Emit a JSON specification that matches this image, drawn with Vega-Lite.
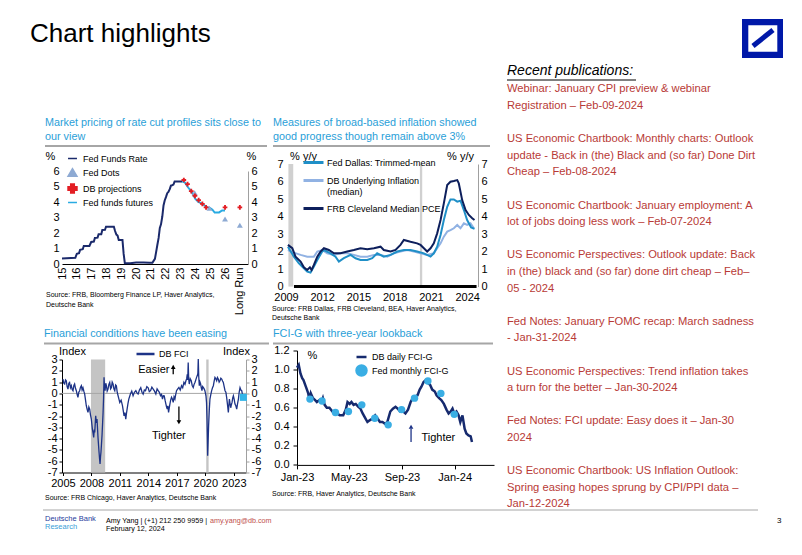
{
  "$schema": "https://vega.github.io/schema/vega-lite/v6.json",
  "background": "white",
  "padding": {"left": 30, "top": 18, "right": 4, "bottom": 4},
  "config": {
    "font": "Liberation Sans",
    "view": {"stroke": null},
    "axis": {"labelFont": "Liberation Sans", "labelFontSize": 11, "labelColor": "#000000", "grid": false, "ticks": false, "domain": false, "titleFont": "Liberation Sans", "titleFontSize": 11, "titleFontWeight": "normal", "titleColor": "#000000", "labelFlush": false, "labelOverlap": false, "labelPadding": 3, "tickCount": 20},
    "legend": {"labelFont": "Liberation Sans", "labelFontSize": 9, "labelColor": "#000000", "symbolStrokeWidth": 2.5, "rowPadding": 0, "padding": 0},
    "title": {"font": "Liberation Sans", "fontWeight": "normal", "anchor": "start"},
    "text": {"font": "Liberation Sans"}
  },
  "datasets": {
    "c1": [
      {"s":"Fed Funds Rate","x":2015.0,"v":0.36},{"s":"Fed Funds Rate","x":2015.9,"v":0.40},{"s":"Fed Funds Rate","x":2016.0,"v":0.66},{"s":"Fed Funds Rate","x":2016.15,"v":0.70},{"s":"Fed Funds Rate","x":2016.22,"v":0.91},{"s":"Fed Funds Rate","x":2016.4,"v":0.95},{"s":"Fed Funds Rate","x":2016.47,"v":1.16},{"s":"Fed Funds Rate","x":2016.85,"v":1.16},{"s":"Fed Funds Rate","x":2016.97,"v":1.42},{"s":"Fed Funds Rate","x":2017.15,"v":1.45},{"s":"Fed Funds Rate","x":2017.22,"v":1.68},{"s":"Fed Funds Rate","x":2017.4,"v":1.70},{"s":"Fed Funds Rate","x":2017.47,"v":1.92},{"s":"Fed Funds Rate","x":2017.65,"v":1.92},{"s":"Fed Funds Rate","x":2017.72,"v":2.19},{"s":"Fed Funds Rate","x":2017.9,"v":2.20},{"s":"Fed Funds Rate","x":2017.97,"v":2.40},{"s":"Fed Funds Rate","x":2018.5,"v":2.40},{"s":"Fed Funds Rate","x":2018.58,"v":2.13},{"s":"Fed Funds Rate","x":2018.67,"v":1.90},{"s":"Fed Funds Rate","x":2018.75,"v":1.83},{"s":"Fed Funds Rate","x":2018.83,"v":1.55},{"s":"Fed Funds Rate","x":2019.08,"v":1.55},{"s":"Fed Funds Rate","x":2019.16,"v":0.65},{"s":"Fed Funds Rate","x":2019.24,"v":0.05},{"s":"Fed Funds Rate","x":2019.6,"v":0.05},{"s":"Fed Funds Rate","x":2020.0,"v":0.09},{"s":"Fed Funds Rate","x":2020.5,"v":0.10},{"s":"Fed Funds Rate","x":2020.9,"v":0.08},{"s":"Fed Funds Rate","x":2021.1,"v":0.08},{"s":"Fed Funds Rate","x":2021.18,"v":0.20},{"s":"Fed Funds Rate","x":2021.27,"v":0.33},{"s":"Fed Funds Rate","x":2021.35,"v":0.77},{"s":"Fed Funds Rate","x":2021.43,"v":1.21},{"s":"Fed Funds Rate","x":2021.52,"v":1.68},{"s":"Fed Funds Rate","x":2021.6,"v":2.33},{"s":"Fed Funds Rate","x":2021.68,"v":2.56},{"s":"Fed Funds Rate","x":2021.77,"v":3.08},{"s":"Fed Funds Rate","x":2021.85,"v":3.78},{"s":"Fed Funds Rate","x":2021.93,"v":4.10},{"s":"Fed Funds Rate","x":2022.02,"v":4.33},{"s":"Fed Funds Rate","x":2022.1,"v":4.57},{"s":"Fed Funds Rate","x":2022.18,"v":4.65},{"s":"Fed Funds Rate","x":2022.27,"v":4.83},{"s":"Fed Funds Rate","x":2022.35,"v":5.06},{"s":"Fed Funds Rate","x":2022.43,"v":5.08},{"s":"Fed Funds Rate","x":2022.52,"v":5.12},{"s":"Fed Funds Rate","x":2022.6,"v":5.33},{"s":"Fed Funds Rate","x":2023.1,"v":5.33},
      {"s":"Fed funds futures","x":2023.1,"v":5.33},{"s":"Fed funds futures","x":2023.3,"v":5.25},{"s":"Fed funds futures","x":2023.5,"v":4.95},{"s":"Fed funds futures","x":2023.75,"v":4.65},{"s":"Fed funds futures","x":2024.0,"v":4.2},{"s":"Fed funds futures","x":2024.2,"v":4.0},{"s":"Fed funds futures","x":2024.45,"v":3.9},{"s":"Fed funds futures","x":2024.75,"v":3.68},{"s":"Fed funds futures","x":2025.0,"v":3.6},{"s":"Fed funds futures","x":2025.15,"v":3.5},{"s":"Fed funds futures","x":2025.3,"v":3.32},{"s":"Fed funds futures","x":2025.6,"v":3.33},{"s":"Fed funds futures","x":2025.8,"v":3.45},{"s":"Fed funds futures","x":2026.0,"v":3.45},
      {"s":"Fed Dots","x":2023.95,"v":4.6},{"s":"Fed Dots","x":2024.95,"v":3.6},{"s":"Fed Dots","x":2026.0,"v":2.9},{"s":"Fed Dots","x":2027.0,"v":2.5},
      {"s":"DB projections","x":2023.22,"v":5.42},{"s":"DB projections","x":2023.47,"v":5.15},{"s":"DB projections","x":2023.72,"v":4.7},{"s":"DB projections","x":2023.97,"v":4.4},{"s":"DB projections","x":2024.22,"v":4.12},{"s":"DB projections","x":2024.47,"v":3.88},{"s":"DB projections","x":2024.72,"v":3.65},{"s":"DB projections","x":2026.0,"v":3.65},{"s":"DB projections","x":2027.0,"v":3.65}
    ],
    "c2": [
      {"s":"DB Underlying Inflation (median)","x":2009.16,"v":2.09},{"s":"DB Underlying Inflation (median)","x":2009.65,"v":1.94},{"s":"DB Underlying Inflation (median)","x":2010.21,"v":1.81},{"s":"DB Underlying Inflation (median)","x":2010.76,"v":1.71},{"s":"DB Underlying Inflation (median)","x":2011.31,"v":1.71},{"s":"DB Underlying Inflation (median)","x":2011.59,"v":2.0},{"s":"DB Underlying Inflation (median)","x":2012.0,"v":2.09},{"s":"DB Underlying Inflation (median)","x":2012.41,"v":1.9},{"s":"DB Underlying Inflation (median)","x":2012.97,"v":1.81},{"s":"DB Underlying Inflation (median)","x":2013.52,"v":1.9},{"s":"DB Underlying Inflation (median)","x":2014.07,"v":1.9},{"s":"DB Underlying Inflation (median)","x":2014.62,"v":1.81},{"s":"DB Underlying Inflation (median)","x":2015.17,"v":1.71},{"s":"DB Underlying Inflation (median)","x":2015.73,"v":1.71},{"s":"DB Underlying Inflation (median)","x":2016.28,"v":1.81},{"s":"DB Underlying Inflation (median)","x":2016.83,"v":1.81},{"s":"DB Underlying Inflation (median)","x":2017.38,"v":1.71},{"s":"DB Underlying Inflation (median)","x":2017.93,"v":1.9},{"s":"DB Underlying Inflation (median)","x":2018.48,"v":2.0},{"s":"DB Underlying Inflation (median)","x":2019.04,"v":2.09},{"s":"DB Underlying Inflation (median)","x":2019.59,"v":2.0},{"s":"DB Underlying Inflation (median)","x":2020.14,"v":1.9},{"s":"DB Underlying Inflation (median)","x":2020.69,"v":1.81},{"s":"DB Underlying Inflation (median)","x":2021.24,"v":1.9},{"s":"DB Underlying Inflation (median)","x":2021.52,"v":2.19},{"s":"DB Underlying Inflation (median)","x":2021.8,"v":2.47},{"s":"DB Underlying Inflation (median)","x":2022.07,"v":2.85},{"s":"DB Underlying Inflation (median)","x":2022.35,"v":3.14},{"s":"DB Underlying Inflation (median)","x":2022.62,"v":3.23},{"s":"DB Underlying Inflation (median)","x":2022.9,"v":3.33},{"s":"DB Underlying Inflation (median)","x":2023.18,"v":3.52},{"s":"DB Underlying Inflation (median)","x":2023.45,"v":3.33},{"s":"DB Underlying Inflation (median)","x":2023.73,"v":3.61},{"s":"DB Underlying Inflation (median)","x":2024.0,"v":3.52},{"s":"DB Underlying Inflation (median)","x":2024.28,"v":3.61},{"s":"DB Underlying Inflation (median)","x":2024.56,"v":3.33},
      {"s":"Fed Dallas: Trimmed-mean","x":2009.16,"v":2.28},{"s":"Fed Dallas: Trimmed-mean","x":2009.65,"v":1.71},{"s":"Fed Dallas: Trimmed-mean","x":2010.07,"v":1.33},{"s":"Fed Dallas: Trimmed-mean","x":2010.48,"v":1.05},{"s":"Fed Dallas: Trimmed-mean","x":2010.76,"v":0.86},{"s":"Fed Dallas: Trimmed-mean","x":2011.03,"v":0.8},{"s":"Fed Dallas: Trimmed-mean","x":2011.31,"v":1.14},{"s":"Fed Dallas: Trimmed-mean","x":2011.59,"v":1.52},{"s":"Fed Dallas: Trimmed-mean","x":2012.0,"v":2.0},{"s":"Fed Dallas: Trimmed-mean","x":2012.14,"v":2.09},{"s":"Fed Dallas: Trimmed-mean","x":2012.69,"v":1.9},{"s":"Fed Dallas: Trimmed-mean","x":2013.1,"v":1.71},{"s":"Fed Dallas: Trimmed-mean","x":2013.38,"v":1.43},{"s":"Fed Dallas: Trimmed-mean","x":2013.79,"v":1.62},{"s":"Fed Dallas: Trimmed-mean","x":2014.35,"v":1.81},{"s":"Fed Dallas: Trimmed-mean","x":2014.76,"v":1.62},{"s":"Fed Dallas: Trimmed-mean","x":2015.17,"v":1.52},{"s":"Fed Dallas: Trimmed-mean","x":2015.73,"v":1.52},{"s":"Fed Dallas: Trimmed-mean","x":2016.14,"v":1.62},{"s":"Fed Dallas: Trimmed-mean","x":2016.55,"v":1.9},{"s":"Fed Dallas: Trimmed-mean","x":2017.1,"v":1.71},{"s":"Fed Dallas: Trimmed-mean","x":2017.66,"v":1.81},{"s":"Fed Dallas: Trimmed-mean","x":2018.21,"v":2.0},{"s":"Fed Dallas: Trimmed-mean","x":2018.76,"v":2.09},{"s":"Fed Dallas: Trimmed-mean","x":2019.31,"v":2.09},{"s":"Fed Dallas: Trimmed-mean","x":2019.86,"v":2.0},{"s":"Fed Dallas: Trimmed-mean","x":2020.42,"v":1.9},{"s":"Fed Dallas: Trimmed-mean","x":2020.97,"v":1.71},{"s":"Fed Dallas: Trimmed-mean","x":2021.24,"v":1.9},{"s":"Fed Dallas: Trimmed-mean","x":2021.52,"v":2.28},{"s":"Fed Dallas: Trimmed-mean","x":2021.8,"v":2.95},{"s":"Fed Dallas: Trimmed-mean","x":2022.07,"v":3.8},{"s":"Fed Dallas: Trimmed-mean","x":2022.35,"v":4.56},{"s":"Fed Dallas: Trimmed-mean","x":2022.62,"v":4.98},{"s":"Fed Dallas: Trimmed-mean","x":2022.9,"v":4.98},{"s":"Fed Dallas: Trimmed-mean","x":2023.18,"v":4.85},{"s":"Fed Dallas: Trimmed-mean","x":2023.45,"v":4.9},{"s":"Fed Dallas: Trimmed-mean","x":2023.73,"v":4.37},{"s":"Fed Dallas: Trimmed-mean","x":2024.0,"v":3.8},{"s":"Fed Dallas: Trimmed-mean","x":2024.33,"v":3.38},{"s":"Fed Dallas: Trimmed-mean","x":2024.61,"v":3.3},
      {"s":"FRB Cleveland Median PCE","x":2009.16,"v":2.38},{"s":"FRB Cleveland Median PCE","x":2009.52,"v":2.19},{"s":"FRB Cleveland Median PCE","x":2009.79,"v":1.71},{"s":"FRB Cleveland Median PCE","x":2010.21,"v":1.43},{"s":"FRB Cleveland Median PCE","x":2010.48,"v":1.1},{"s":"FRB Cleveland Median PCE","x":2010.76,"v":0.95},{"s":"FRB Cleveland Median PCE","x":2010.98,"v":1.1},{"s":"FRB Cleveland Median PCE","x":2011.12,"v":0.95},{"s":"FRB Cleveland Median PCE","x":2011.31,"v":1.24},{"s":"FRB Cleveland Median PCE","x":2011.59,"v":1.71},{"s":"FRB Cleveland Median PCE","x":2011.86,"v":2.0},{"s":"FRB Cleveland Median PCE","x":2012.14,"v":2.19},{"s":"FRB Cleveland Median PCE","x":2012.55,"v":2.09},{"s":"FRB Cleveland Median PCE","x":2012.97,"v":1.9},{"s":"FRB Cleveland Median PCE","x":2013.52,"v":1.9},{"s":"FRB Cleveland Median PCE","x":2014.07,"v":2.0},{"s":"FRB Cleveland Median PCE","x":2014.62,"v":2.09},{"s":"FRB Cleveland Median PCE","x":2015.17,"v":2.19},{"s":"FRB Cleveland Median PCE","x":2015.73,"v":2.14},{"s":"FRB Cleveland Median PCE","x":2016.28,"v":2.19},{"s":"FRB Cleveland Median PCE","x":2016.83,"v":2.28},{"s":"FRB Cleveland Median PCE","x":2017.1,"v":2.09},{"s":"FRB Cleveland Median PCE","x":2017.66,"v":2.0},{"s":"FRB Cleveland Median PCE","x":2018.07,"v":2.09},{"s":"FRB Cleveland Median PCE","x":2018.48,"v":2.38},{"s":"FRB Cleveland Median PCE","x":2018.76,"v":2.66},{"s":"FRB Cleveland Median PCE","x":2019.31,"v":2.56},{"s":"FRB Cleveland Median PCE","x":2019.86,"v":2.47},{"s":"FRB Cleveland Median PCE","x":2020.14,"v":2.38},{"s":"FRB Cleveland Median PCE","x":2020.42,"v":2.19},{"s":"FRB Cleveland Median PCE","x":2020.69,"v":2.0},{"s":"FRB Cleveland Median PCE","x":2020.97,"v":2.19},{"s":"FRB Cleveland Median PCE","x":2021.24,"v":2.47},{"s":"FRB Cleveland Median PCE","x":2021.52,"v":3.04},{"s":"FRB Cleveland Median PCE","x":2021.8,"v":3.8},{"s":"FRB Cleveland Median PCE","x":2022.07,"v":4.75},{"s":"FRB Cleveland Median PCE","x":2022.35,"v":5.8},{"s":"FRB Cleveland Median PCE","x":2022.62,"v":5.99},{"s":"FRB Cleveland Median PCE","x":2022.9,"v":6.03},{"s":"FRB Cleveland Median PCE","x":2023.18,"v":6.08},{"s":"FRB Cleveland Median PCE","x":2023.31,"v":5.89},{"s":"FRB Cleveland Median PCE","x":2023.59,"v":4.94},{"s":"FRB Cleveland Median PCE","x":2023.87,"v":4.37},{"s":"FRB Cleveland Median PCE","x":2024.14,"v":4.09},{"s":"FRB Cleveland Median PCE","x":2024.42,"v":3.9},{"s":"FRB Cleveland Median PCE","x":2024.61,"v":3.8}
    ],
    "c3": [
      {"x":2005.00,"v":1.27},{"x":2005.09,"v":0.9},{"x":2005.18,"v":0.83},{"x":2005.27,"v":1.2},{"x":2005.35,"v":1.12},{"x":2005.44,"v":0.6},{"x":2005.53,"v":0.38},{"x":2005.62,"v":0.9},{"x":2005.70,"v":0.97},{"x":2005.79,"v":0.5},{"x":2005.88,"v":0.68},{"x":2005.97,"v":0.35},{"x":2006.06,"v":0.24},{"x":2006.15,"v":0.7},{"x":2006.23,"v":0.83},{"x":2006.32,"v":0.45},{"x":2006.41,"v":0.24},{"x":2006.50,"v":-0.1},{"x":2006.58,"v":-0.35},{"x":2006.67,"v":0.1},{"x":2006.76,"v":0.24},{"x":2006.85,"v":0.55},{"x":2006.94,"v":0.68},{"x":2007.02,"v":0.3},{"x":2007.11,"v":0.5},{"x":2007.20,"v":0.2},{"x":2007.29,"v":-0.06},{"x":2007.38,"v":-0.6},{"x":2007.46,"v":-1.09},{"x":2007.55,"v":-1.4},{"x":2007.64,"v":-1.68},{"x":2007.73,"v":-1.2},{"x":2007.82,"v":-1.39},{"x":2007.90,"v":-1.9},{"x":2007.99,"v":-2.27},{"x":2008.10,"v":-3.16},{"x":2008.17,"v":-3.5},{"x":2008.24,"v":-3.89},{"x":2008.30,"v":-3.2},{"x":2008.35,"v":-3.45},{"x":2008.45,"v":-1.98},{"x":2008.52,"v":-2.6},{"x":2008.59,"v":-2.27},{"x":2008.70,"v":-3.98},{"x":2008.80,"v":-5.16},{"x":2008.86,"v":-5.8},{"x":2008.91,"v":-6.25},{"x":2008.96,"v":-5.6},{"x":2009.01,"v":-5.16},{"x":2009.06,"v":-4.5},{"x":2009.12,"v":-3.69},{"x":2009.18,"v":-2.6},{"x":2009.23,"v":-1.68},{"x":2009.28,"v":-0.4},{"x":2009.33,"v":1.42},{"x":2009.38,"v":0.5},{"x":2009.44,"v":0.24},{"x":2009.51,"v":0.9},{"x":2009.58,"v":0.68},{"x":2009.66,"v":0.2},{"x":2009.75,"v":0.38},{"x":2009.84,"v":0.8},{"x":2009.93,"v":0.97},{"x":2010.02,"v":0.4},{"x":2010.11,"v":0.53},{"x":2010.19,"v":1.0},{"x":2010.28,"v":0.83},{"x":2010.37,"v":0.4},{"x":2010.46,"v":0.24},{"x":2010.55,"v":0.75},{"x":2010.63,"v":0.68},{"x":2010.72,"v":0.1},{"x":2010.81,"v":-0.21},{"x":2010.90,"v":-0.5},{"x":2010.99,"v":-0.8},{"x":2011.13,"v":-0.6},{"x":2011.27,"v":-1.09},{"x":2011.35,"v":-1.5},{"x":2011.44,"v":-1.98},{"x":2011.53,"v":-1.7},{"x":2011.62,"v":-2.27},{"x":2011.69,"v":-1.8},{"x":2011.76,"v":-1.39},{"x":2011.85,"v":-0.9},{"x":2011.94,"v":-0.5},{"x":2012.02,"v":-0.3},{"x":2012.11,"v":-0.06},{"x":2012.25,"v":0.2},{"x":2012.39,"v":-0.21},{"x":2012.53,"v":0.1},{"x":2012.68,"v":0.24},{"x":2012.80,"v":0.05},{"x":2012.92,"v":-0.06},{"x":2013.06,"v":0.3},{"x":2013.20,"v":0.5},{"x":2013.33,"v":0.1},{"x":2013.45,"v":-0.06},{"x":2013.58,"v":0.3},{"x":2013.70,"v":0.24},{"x":2013.84,"v":0.6},{"x":2013.98,"v":0.5},{"x":2014.10,"v":0.15},{"x":2014.23,"v":0.24},{"x":2014.37,"v":0.55},{"x":2014.51,"v":0.38},{"x":2014.65,"v":0.2},{"x":2014.79,"v":-0.06},{"x":2014.92,"v":0.4},{"x":2015.04,"v":0.24},{"x":2015.16,"v":0.1},{"x":2015.28,"v":-0.21},{"x":2015.39,"v":-0.1},{"x":2015.49,"v":-0.5},{"x":2015.58,"v":-0.2},{"x":2015.67,"v":-0.21},{"x":2015.76,"v":-0.6},{"x":2015.85,"v":-0.94},{"x":2015.92,"v":-1.2},{"x":2015.99,"v":-1.39},{"x":2016.06,"v":-1.1},{"x":2016.13,"v":-1.68},{"x":2016.20,"v":-1.3},{"x":2016.27,"v":-0.94},{"x":2016.35,"v":-0.6},{"x":2016.44,"v":-0.35},{"x":2016.53,"v":-0.5},{"x":2016.62,"v":-0.8},{"x":2016.71,"v":-0.3},{"x":2016.80,"v":-0.5},{"x":2016.88,"v":-0.1},{"x":2016.97,"v":0.24},{"x":2017.10,"v":0.4},{"x":2017.22,"v":0.53},{"x":2017.36,"v":0.3},{"x":2017.50,"v":0.68},{"x":2017.62,"v":0.5},{"x":2017.75,"v":0.97},{"x":2017.86,"v":0.8},{"x":2017.96,"v":1.12},{"x":2018.04,"v":1.3},{"x":2018.10,"v":1.68},{"x":2018.15,"v":1.2},{"x":2018.20,"v":2.74},{"x":2018.25,"v":1.3},{"x":2018.31,"v":0.83},{"x":2018.41,"v":1.3},{"x":2018.52,"v":1.12},{"x":2018.62,"v":0.7},{"x":2018.73,"v":0.53},{"x":2018.82,"v":0.8},{"x":2018.91,"v":0.97},{"x":2019.00,"v":1.2},{"x":2019.08,"v":1.42},{"x":2019.17,"v":1.6},{"x":2019.22,"v":1.8},{"x":2019.26,"v":3.04},{"x":2019.31,"v":1.5},{"x":2019.37,"v":0.68},{"x":2019.44,"v":1.0},{"x":2019.51,"v":0.83},{"x":2019.58,"v":0.5},{"x":2019.65,"v":0.24},{"x":2019.72,"v":0.6},{"x":2019.79,"v":0.53},{"x":2019.88,"v":0.4},{"x":2019.96,"v":0.24},{"x":2020.07,"v":-0.21},{"x":2020.13,"v":-0.8},{"x":2020.18,"v":-2.27},{"x":2020.22,"v":-4.0},{"x":2020.25,"v":-5.52},{"x":2020.30,"v":-4.2},{"x":2020.35,"v":-2.86},{"x":2020.42,"v":-1.5},{"x":2020.49,"v":-0.5},{"x":2020.58,"v":-0.1},{"x":2020.67,"v":0.24},{"x":2020.76,"v":0.5},{"x":2020.85,"v":0.68},{"x":2020.94,"v":1.1},{"x":2021.02,"v":1.42},{"x":2021.11,"v":1.3},{"x":2021.20,"v":1.12},{"x":2021.28,"v":1.4},{"x":2021.37,"v":1.27},{"x":2021.46,"v":1.0},{"x":2021.55,"v":1.12},{"x":2021.64,"v":1.35},{"x":2021.73,"v":1.27},{"x":2021.82,"v":1.1},{"x":2021.90,"v":0.97},{"x":2021.99,"v":0.6},{"x":2022.08,"v":0.24},{"x":2022.17,"v":0.1},{"x":2022.25,"v":-0.35},{"x":2022.34,"v":-1.0},{"x":2022.43,"v":-1.68},{"x":2022.49,"v":-1.0},{"x":2022.54,"v":-0.5},{"x":2022.61,"v":-0.9},{"x":2022.68,"v":-1.27},{"x":2022.75,"v":-1.0},{"x":2022.82,"v":-0.8},{"x":2022.89,"v":-0.4},{"x":2022.96,"v":-0.21},{"x":2023.04,"v":-0.5},{"x":2023.13,"v":-0.94},{"x":2023.22,"v":-1.1},{"x":2023.31,"v":-1.39},{"x":2023.40,"v":-0.9},{"x":2023.49,"v":-0.5},{"x":2023.57,"v":0.1},{"x":2023.66,"v":0.5},{"x":2023.75,"v":0.3},{"x":2023.84,"v":0.24},{"x":2023.92,"v":-0.1},{"x":2024.01,"v":-0.35}
    ],
    "c4": [
      {"d":"2023-01-01","v":1.02},{"d":"2023-01-05","v":1.05},{"d":"2023-01-09","v":0.96},{"d":"2023-01-13","v":0.91},{"d":"2023-01-16","v":0.89},{"d":"2023-01-20","v":0.84},{"d":"2023-01-24","v":0.79},{"d":"2023-01-27","v":0.75},{"d":"2023-01-30","v":0.68},{"d":"2023-02-02","v":0.75},{"d":"2023-02-07","v":0.70},{"d":"2023-02-12","v":0.68},{"d":"2023-02-16","v":0.66},{"d":"2023-02-22","v":0.68},{"d":"2023-02-27","v":0.66},{"d":"2023-03-02","v":0.70},{"d":"2023-03-06","v":0.63},{"d":"2023-03-11","v":0.60},{"d":"2023-03-17","v":0.60},{"d":"2023-03-24","v":0.56},{"d":"2023-03-29","v":0.56},{"d":"2023-04-04","v":0.54},{"d":"2023-04-10","v":0.52},{"d":"2023-04-18","v":0.52},{"d":"2023-04-24","v":0.58},{"d":"2023-04-28","v":0.66},{"d":"2023-05-03","v":0.64},{"d":"2023-05-07","v":0.66},{"d":"2023-05-12","v":0.63},{"d":"2023-05-17","v":0.64},{"d":"2023-05-23","v":0.61},{"d":"2023-05-28","v":0.59},{"d":"2023-06-02","v":0.54},{"d":"2023-06-08","v":0.49},{"d":"2023-06-13","v":0.45},{"d":"2023-06-19","v":0.47},{"d":"2023-06-26","v":0.49},{"d":"2023-07-01","v":0.52},{"d":"2023-07-06","v":0.49},{"d":"2023-07-12","v":0.45},{"d":"2023-07-18","v":0.45},{"d":"2023-07-24","v":0.43},{"d":"2023-07-29","v":0.45},{"d":"2023-08-05","v":0.56},{"d":"2023-08-11","v":0.59},{"d":"2023-08-17","v":0.61},{"d":"2023-08-22","v":0.59},{"d":"2023-08-28","v":0.56},{"d":"2023-09-04","v":0.56},{"d":"2023-09-09","v":0.54},{"d":"2023-09-15","v":0.58},{"d":"2023-09-21","v":0.66},{"d":"2023-09-26","v":0.70},{"d":"2023-10-02","v":0.72},{"d":"2023-10-07","v":0.73},{"d":"2023-10-12","v":0.79},{"d":"2023-10-16","v":0.82},{"d":"2023-10-21","v":0.87},{"d":"2023-10-26","v":0.89},{"d":"2023-10-31","v":0.86},{"d":"2023-11-05","v":0.84},{"d":"2023-11-10","v":0.79},{"d":"2023-11-16","v":0.77},{"d":"2023-11-20","v":0.73},{"d":"2023-11-26","v":0.70},{"d":"2023-12-01","v":0.68},{"d":"2023-12-07","v":0.64},{"d":"2023-12-13","v":0.58},{"d":"2023-12-18","v":0.54},{"d":"2023-12-23","v":0.56},{"d":"2023-12-27","v":0.59},{"d":"2023-12-31","v":0.54},{"d":"2024-01-05","v":0.56},{"d":"2024-01-10","v":0.52},{"d":"2024-01-14","v":0.45},{"d":"2024-01-19","v":0.52},{"d":"2024-01-24","v":0.38},{"d":"2024-01-28","v":0.33},{"d":"2024-02-02","v":0.31},{"d":"2024-02-07","v":0.30},{"d":"2024-02-10","v":0.24}
    ],
    "c4d": [
      {"d":"2023-01-31","v":0.69},{"d":"2023-02-28","v":0.67},{"d":"2023-03-31","v":0.55},{"d":"2023-04-30","v":0.56},{"d":"2023-05-31","v":0.63},{"d":"2023-06-30","v":0.49},{"d":"2023-07-31","v":0.42},{"d":"2023-08-31","v":0.58},{"d":"2023-09-30","v":0.70},{"d":"2023-10-31","v":0.88},{"d":"2023-11-30","v":0.75},{"d":"2023-12-31","v":0.53}
    ],
    "pubs": [
      {"i":0,"t":"Webinar: January CPI preview & webinar"},
      {"i":1,"t":"Registration – Feb-09-2024"},
      {"i":3,"t":"US Economic Chartbook: Monthly charts: Outlook"},
      {"i":4,"t":"update - Back in (the) Black and (so far) Done Dirt"},
      {"i":5,"t":"Cheap – Feb-08-2024"},
      {"i":7,"t":"US Economic Chartbook: January employment: A"},
      {"i":8,"t":"lot of jobs doing less work – Feb-07-2024"},
      {"i":10,"t":"US Economic Perspectives: Outlook update: Back"},
      {"i":11,"t":"in (the) black and (so far) done dirt cheap – Feb–"},
      {"i":12,"t":"05 - 2024"},
      {"i":14,"t":"Fed Notes: January FOMC recap: March sadness"},
      {"i":15,"t":"- Jan-31-2024"},
      {"i":17,"t":"US Economic Perspectives: Trend inflation takes"},
      {"i":18,"t":"a turn for the better – Jan-30-2024"},
      {"i":20,"t":"Fed Notes: FCI update: Easy does it – Jan-30"},
      {"i":21,"t":"2024"},
      {"i":23,"t":"US Economic Chartbook: US Inflation Outlook:"},
      {"i":24,"t":"Spring easing hopes sprung by CPI/PPI data –"},
      {"i":25,"t":"Jan-12-2024"}
    ]
  },
  "vconcat": [
    {
      "hconcat": [
        {
          "title": {"text": "Chart highlights", "fontSize": 26, "color": "#000000", "frame": "bounds", "dx": -13, "dy": 3, "offset": 73},
          "resolve": {"scale": {"color": "independent", "shape": "independent"}, "legend": {"color": "independent", "shape": "independent"}},
          "spacing": 5.5,
          "vconcat": [
            {
              "resolve": {"scale": {"color": "independent", "shape": "independent"}, "legend": {"color": "independent", "shape": "independent"}},
              "spacing": 4,
              "hconcat": [
                {
                  "spacing": 3,
                  "vconcat": [
                    {"width": 205, "height": 1, "data": {"values": [{}]},
                     "title": {"text": ["Market pricing of rate cut profiles sits close to", "our view"], "fontSize": 10.8, "lineHeight": 14, "color": "#2aa0d8", "offset": 3, "frame": "group", "dx": -17},
                     "mark": {"type": "rule", "color": "#a6a6a6", "strokeWidth": 2},
                     "encoding": {"x": {"datum": -17, "type": "quantitative", "scale": {"domain": [0, 205], "nice": false, "zero": false}, "axis": null}, "x2": {"datum": 205},
                                  "y": {"datum": 0, "type": "quantitative", "scale": {"domain": [0, 1]}, "axis": null}}},
                    {
                      "width": 186, "height": 93,
                      "data": {"name": "c1"},
                      "title": {"text": ["Source: FRB, Bloomberg Finance LP, Haver Analytics,", "Deutsche Bank"], "orient": "bottom", "frame": "group", "dx": -16, "dy": -24, "fontSize": 7, "lineHeight": 10, "color": "#000000", "offset": 0},
                      "layer": [
                        {
                          "transform": [{"filter": {"field": "s", "oneOf": ["Fed Funds Rate", "Fed funds futures"]}}],
                          "mark": {"type": "line", "strokeWidth": 2},
                          "encoding": {
                            "x": {"field": "x", "type": "quantitative", "scale": {"domain": [2015, 2027.55], "nice": false, "zero": false},
                                  "axis": {"title": null, "values": [2015,2016,2017,2018,2019,2020,2021,2022,2023,2024,2025,2026,2027], "tickCount": 20, "labelExpr": "datum.value == 2027 ? 'Long Run' : '' + (datum.value - 2000)", "labelAngle": -90, "labelOverlap": false, "domain": true, "domainColor": "#000000"}},
                            "y": {"field": "v", "type": "quantitative", "scale": {"domain": [0, 6], "nice": false},
                                  "axis": {"values": [0,1,2,3,4,5,6], "format": "d", "tickCount": 20, "labelOverlap": false, "title": "%", "titleAngle": 0, "titleX": -12, "titleY": -15, "titleAlign": "center", "titleBaseline": "middle"}},
                            "color": {"field": "s", "type": "nominal",
                                      "scale": {"domain": ["Fed Funds Rate", "Fed Dots", "DB projections", "Fed funds futures"], "range": ["#1b2a6b", "#8eaad3", "#e31e24", "#29abe2"]},
                                      "legend": {"title": null, "orient": "none", "legendX": 5, "legendY": 8, "labelOffset": 5, "symbolSize": 80, "symbolStrokeWidth": 1.5, "rowPadding": 1}}
                          }
                        },
                        {
                          "transform": [{"filter": {"field": "s", "equal": "Fed Dots"}}],
                          "mark": {"type": "point", "filled": true, "size": 35, "opacity": 1},
                          "encoding": {"x": {"field": "x", "type": "quantitative"}, "y": {"field": "v", "type": "quantitative", "axis": null}, "color": {"field": "s", "type": "nominal"},
                                       "shape": {"field": "s", "type": "nominal", "scale": {"domain": ["Fed Funds Rate", "Fed Dots", "DB projections", "Fed funds futures"], "range": ["stroke", "triangle-up", "cross", "stroke"]},
                                                 "legend": {"title": null, "orient": "none", "legendX": 5, "legendY": 8, "labelOffset": 5, "symbolSize": 80, "symbolStrokeWidth": 1.5, "rowPadding": 1}}}
                        },
                        {
                          "transform": [{"filter": {"field": "s", "equal": "DB projections"}}],
                          "mark": {"type": "point", "filled": true, "size": 22, "opacity": 1},
                          "encoding": {"x": {"field": "x", "type": "quantitative"}, "y": {"field": "v", "type": "quantitative", "axis": null}, "color": {"field": "s", "type": "nominal"}, "shape": {"field": "s", "type": "nominal"}}
                        },
                        {
                          "mark": {"type": "point", "opacity": 0},
                          "encoding": {"x": {"field": "x", "type": "quantitative"},
                                       "y": {"field": "v", "type": "quantitative", "axis": {"orient": "right", "values": [0,1,2,3,4,5,6], "format": "d", "tickCount": 20, "labelOverlap": false, "title": "%", "titleAngle": 0, "titleX": 3, "titleY": -15, "titleAlign": "center", "titleBaseline": "middle", "domain": true, "domainColor": "#a0a0a0"}}}
                        }
                      ],
                      "resolve": {"axis": {"y": "independent"}}
                    }
                  ]
                },
                {
                  "spacing": 3,
                  "vconcat": [
                    {"width": 204, "height": 1, "data": {"values": [{}]},
                     "title": {"text": ["Measures of broad-based inflation showed", "good progress though remain above 3%"], "fontSize": 10.8, "lineHeight": 14, "color": "#2aa0d8", "offset": 3, "frame": "group", "dx": -13},
                     "mark": {"type": "rule", "color": "#a6a6a6", "strokeWidth": 2},
                     "encoding": {"x": {"datum": -13, "type": "quantitative", "scale": {"domain": [0, 204], "nice": false, "zero": false}, "axis": null}, "x2": {"datum": 204},
                                  "y": {"datum": 0, "type": "quantitative", "scale": {"domain": [0, 1]}, "axis": null}}},
                    {
                      "width": 192, "height": 122.6,
                      "title": {"text": ["Source: FRB Dallas, FRB Cleveland, BEA, Haver Analytics,", "Deutsche Bank"], "orient": "bottom", "frame": "group", "dx": -14, "fontSize": 7, "lineHeight": 9.5, "color": "#000000", "offset": 2},
                      "layer": [
                        {
                          "data": {"values": [{"a": 2009.2, "b": 2009.6}, {"a": 2020.09, "b": 2020.28}]},
                          "mark": {"type": "rect", "color": "#d0d0d0"},
                          "encoding": {"x": {"field": "a", "type": "quantitative", "scale": {"domain": [2009, 2024.9], "nice": false, "zero": false},
                                             "axis": {"title": null, "values": [2009,2012,2015,2018,2021,2024], "tickCount": 20, "format": "d", "labelOverlap": false, "labelPadding": 5}},
                                       "x2": {"field": "b"}}
                        },
                        {
                          "data": {"values": [{"a": 2009.66, "b": 2024.78}]},
                          "mark": {"type": "rule", "color": "#000000", "strokeWidth": 3},
                          "encoding": {"x": {"field": "a", "type": "quantitative"}, "x2": {"field": "b"}, "y": {"datum": 0, "type": "quantitative", "axis": null}}
                        },
                        {
                          "data": {"name": "c2"},
                          "mark": {"type": "line", "strokeWidth": 2},
                          "encoding": {
                            "x": {"field": "x", "type": "quantitative"},
                            "y": {"field": "v", "type": "quantitative", "scale": {"domain": [0, 7], "nice": false},
                                  "axis": {"values": [0,1,2,3,4,5,6,7], "format": "d", "tickCount": 20, "labelOverlap": false, "title": "% y/y", "titleAngle": 0, "titleX": 17, "titleY": -7.5, "titleAlign": "center", "titleBaseline": "middle"}},
                            "color": {"field": "s", "type": "nominal",
                                      "scale": {"domain": ["Fed Dallas: Trimmed-mean", "DB Underlying Inflation (median)", "FRB Cleveland Median PCE"], "range": ["#1f8fc7", "#91b2e3", "#0d1f5c"]},
                                      "legend": {"title": null, "orient": "none", "legendX": 16, "legendY": 6, "labelOffset": 2, "rowPadding": 0, "symbolType": "stroke", "symbolSize": 400, "symbolStrokeWidth": 3,
                                                 "labelExpr": "datum.label == 'DB Underlying Inflation (median)' ? ['DB Underlying Inflation', '(median)'] : datum.label"}}
                          }
                        },
                        {
                          "data": {"name": "c2"},
                          "mark": {"type": "point", "opacity": 0},
                          "encoding": {"x": {"field": "x", "type": "quantitative"},
                                       "y": {"field": "v", "type": "quantitative", "axis": {"orient": "right", "values": [0,1,2,3,4,5,6,7], "format": "d", "tickCount": 20, "labelOverlap": false, "title": "% y/y", "titleAngle": 0, "titleX": -18, "titleY": -7.5, "titleAlign": "center", "titleBaseline": "middle", "domain": true, "domainColor": "#a0a0a0"}}}
                        }
                      ],
                      "resolve": {"axis": {"y": "independent"}}
                    }
                  ]
                }
              ]
            },
            {
              "resolve": {"scale": {"color": "independent", "shape": "independent"}, "legend": {"color": "independent", "shape": "independent"}},
              "spacing": 2,
              "hconcat": [
                {
                  "spacing": 0,
                  "vconcat": [
                    {"width": 207, "height": 1, "data": {"values": [{}]},
                     "title": {"text": "Financial conditions have been easing", "fontSize": 10.8, "color": "#2aa0d8", "offset": 4, "frame": "group", "dx": -18},
                     "mark": {"type": "rule", "color": "#a6a6a6", "strokeWidth": 2},
                     "encoding": {"x": {"datum": -18, "type": "quantitative", "scale": {"domain": [0, 207], "nice": false, "zero": false}, "axis": null}, "x2": {"datum": 207},
                                  "y": {"datum": 0, "type": "quantitative", "scale": {"domain": [0, 1]}, "axis": null}}},
                    {
                      "width": 184, "height": 113,
                      "title": {"text": "Source: FRB Chicago, Haver Analytics, Deutsche Bank", "orient": "bottom", "frame": "group", "dx": -17, "fontSize": 7, "color": "#000000", "offset": 5.5},
                      "layer": [
                        {
                          "data": {"values": [{"a": 2007.95, "b": 2009.45}, {"a": 2020.1, "b": 2020.35}]},
                          "mark": {"type": "rect", "color": "#c4c4c4"},
                          "encoding": {"x": {"field": "a", "type": "quantitative", "scale": {"domain": [2004.9, 2024.29], "nice": false, "zero": false},
                                             "axis": {"title": null, "values": [2005,2008,2011,2014,2017,2020,2023], "tickCount": 20, "format": "d", "labelOverlap": false, "domain": true, "domainColor": "#000000", "ticks": true, "tickColor": "#000000", "tickSize": 3, "labelPadding": 2}},
                                       "x2": {"field": "b"}}
                        },
                        {
                          "data": {"values": [{}]},
                          "mark": {"type": "rule", "color": "#a6a6a6", "strokeWidth": 1},
                          "encoding": {"y": {"datum": 0, "type": "quantitative", "axis": null}}
                        },
                        {
                          "data": {"name": "c3"},
                          "mark": {"type": "line", "strokeWidth": 1.3},
                          "encoding": {
                            "x": {"field": "x", "type": "quantitative"},
                            "y": {"field": "v", "type": "quantitative", "scale": {"domain": [-7, 3], "nice": false},
                                  "axis": {"values": [-7,-6,-5,-4,-3,-2,-1,0,1,2,3], "tickCount": 20, "labelOverlap": false, "labelExpr": "'' + datum.value", "domain": true, "domainColor": "#000000", "ticks": true, "tickColor": "#000000", "tickSize": 3, "labelPadding": 2, "title": "Index", "titleAngle": 0, "titleX": 10, "titleY": -8.3, "titleAlign": "center", "titleBaseline": "middle"}},
                            "color": {"datum": "DB FCI", "type": "nominal", "scale": {"domain": ["DB FCI"], "range": ["#1d3387"]},
                                      "legend": {"title": null, "orient": "none", "legendX": 73, "legendY": 1, "labelOffset": 3, "symbolType": "stroke", "symbolSize": 324, "symbolStrokeWidth": 2.5}}
                          }
                        },
                        {
                          "data": {"name": "c3"},
                          "transform": [{"filter": "datum.x > 2024"}],
                          "mark": {"type": "square", "filled": true, "color": "#33b5e8", "size": 50, "opacity": 1},
                          "encoding": {"x": {"field": "x", "type": "quantitative"}, "y": {"field": "v", "type": "quantitative", "axis": null}}
                        },
                        {
                          "data": {"values": [{}]},
                          "mark": {"type": "text", "text": "Easier", "fontSize": 11, "align": "center", "baseline": "middle", "color": "#000000"},
                          "encoding": {"x": {"datum": 2014.58, "type": "quantitative"}, "y": {"datum": 2.09, "type": "quantitative", "axis": null}}
                        },
                        {
                          "data": {"values": [{}]},
                          "mark": {"type": "text", "text": "Tighter", "fontSize": 11, "align": "center", "baseline": "middle", "color": "#000000"},
                          "encoding": {"x": {"datum": 2016.16, "type": "quantitative"}, "y": {"datum": -3.81, "type": "quantitative", "axis": null}}
                        },
                        {
                          "data": {"values": [{}]},
                          "mark": {"type": "rule", "color": "#000000", "strokeWidth": 1.3},
                          "encoding": {"x": {"datum": 2016.62, "type": "quantitative"}, "y": {"datum": 1.7, "type": "quantitative", "axis": null}, "y2": {"datum": 2.3}}
                        },
                        {
                          "data": {"values": [{}]},
                          "mark": {"type": "point", "shape": "triangle-up", "filled": true, "color": "#000000", "size": 22, "opacity": 1},
                          "encoding": {"x": {"datum": 2016.62, "type": "quantitative"}, "y": {"datum": 2.35, "type": "quantitative", "axis": null}}
                        },
                        {
                          "data": {"values": [{}]},
                          "mark": {"type": "rule", "color": "#000000", "strokeWidth": 1.3},
                          "encoding": {"x": {"datum": 2017.22, "type": "quantitative"}, "y": {"datum": -1.15, "type": "quantitative", "axis": null}, "y2": {"datum": -2.45}}
                        },
                        {
                          "data": {"values": [{}]},
                          "mark": {"type": "point", "shape": "triangle-down", "filled": true, "color": "#000000", "size": 22, "opacity": 1},
                          "encoding": {"x": {"datum": 2017.22, "type": "quantitative"}, "y": {"datum": -2.55, "type": "quantitative", "axis": null}}
                        },
                        {
                          "data": {"name": "c3"},
                          "mark": {"type": "point", "opacity": 0},
                          "encoding": {"x": {"field": "x", "type": "quantitative"},
                                       "y": {"field": "v", "type": "quantitative", "axis": {"orient": "right", "values": [-7,-6,-5,-4,-3,-2,-1,0,1,2,3], "tickCount": 20, "labelOverlap": false, "labelExpr": "'' + datum.value", "domain": true, "domainColor": "#a0a0a0", "ticks": true, "tickColor": "#a0a0a0", "tickSize": 3, "labelPadding": 2, "title": "Index", "titleAngle": 0, "titleX": -10, "titleY": -8.3, "titleAlign": "center", "titleBaseline": "middle"}}}
                        }
                      ],
                      "resolve": {"axis": {"y": "independent"}}
                    }
                  ]
                },
                {
                  "spacing": 0,
                  "vconcat": [
                    {"width": 196, "height": 1, "data": {"values": [{}]},
                     "title": {"text": "FCI-G with three-year lookback", "fontSize": 10.8, "color": "#2aa0d8", "offset": 4, "frame": "group", "dx": -24},
                     "mark": {"type": "rule", "color": "#a6a6a6", "strokeWidth": 2},
                     "encoding": {"x": {"datum": -24, "type": "quantitative", "scale": {"domain": [0, 196], "nice": false, "zero": false}, "axis": null}, "x2": {"datum": 196},
                                  "y": {"datum": 0, "type": "quantitative", "scale": {"domain": [0, 1]}, "axis": null}}},
                    {
                      "width": 197, "height": 114.4,
                      "title": {"text": "Source: FRB, Haver Analytics, Deutsche Bank", "orient": "bottom", "frame": "group", "dx": -25, "fontSize": 7, "color": "#000000", "offset": 7.5},
                      "layer": [
                        {
                          "data": {"name": "c4"},
                          "mark": {"type": "line", "strokeWidth": 2.5},
                          "encoding": {
                            "x": {"field": "d", "type": "temporal", "scale": {"domain": [{"year": 2023, "month": 1, "date": 1}, {"year": 2024, "month": 4, "date": 1}], "nice": false},
                                  "axis": {"title": null, "values": [{"year": 2023, "month": 1, "date": 1}, {"year": 2023, "month": 5, "date": 1}, {"year": 2023, "month": 9, "date": 1}, {"year": 2024, "month": 1, "date": 1}], "tickCount": 20, "format": "%b-%y", "labelOverlap": false, "domain": true, "domainColor": "#000000", "ticks": true, "tickColor": "#000000", "tickSize": 4, "labelPadding": 3}},
                            "y": {"field": "v", "type": "quantitative", "scale": {"domain": [0, 1.2], "nice": false},
                                  "axis": {"values": [0, 0.2, 0.4, 0.6, 0.8, 1.0, 1.2], "tickCount": 20, "format": ".1f", "labelOverlap": false, "domain": true, "domainColor": "#000000", "ticks": true, "tickColor": "#000000", "tickSize": 4, "labelPadding": 4, "title": "%", "titleAngle": 0, "titleX": 15, "titleY": 5, "titleAlign": "center", "titleBaseline": "middle"}},
                            "color": {"datum": "DB daily FCI-G", "type": "nominal", "scale": {"domain": ["DB daily FCI-G", "Fed monthly FCI-G"], "range": ["#162a6e", "#3aaee4"]},
                                      "legend": {"title": null, "orient": "none", "legendX": 58, "legendY": 8, "labelOffset": 4, "symbolSize": 100, "symbolStrokeWidth": 2.5, "rowPadding": -2.5}}
                          }
                        },
                        {
                          "data": {"name": "c4d"},
                          "mark": {"type": "point", "filled": true, "size": 55, "opacity": 1},
                          "encoding": {"x": {"field": "d", "type": "temporal"}, "y": {"field": "v", "type": "quantitative"},
                                       "color": {"datum": "Fed monthly FCI-G", "type": "nominal"},
                                       "shape": {"datum": "Fed monthly FCI-G", "type": "nominal", "scale": {"domain": ["DB daily FCI-G", "Fed monthly FCI-G"], "range": ["stroke", "circle"]},
                                                 "legend": {"title": null, "orient": "none", "legendX": 58, "legendY": 8, "labelOffset": 4, "symbolSize": 100, "symbolStrokeWidth": 2.5, "rowPadding": -2.5}}}
                        },
                        {
                          "data": {"values": [{}]},
                          "mark": {"type": "rule", "color": "#1d3387", "strokeWidth": 1.3},
                          "encoding": {"x": {"datum": {"year": 2023, "month": 9, "date": 22}, "type": "temporal"}, "y": {"datum": 0.24, "type": "quantitative"}, "y2": {"datum": 0.38}}
                        },
                        {
                          "data": {"values": [{}]},
                          "mark": {"type": "point", "shape": "triangle-up", "filled": true, "color": "#1d3387", "size": 22, "opacity": 1},
                          "encoding": {"x": {"datum": {"year": 2023, "month": 9, "date": 22}, "type": "temporal"}, "y": {"datum": 0.40, "type": "quantitative"}}
                        },
                        {
                          "data": {"values": [{}]},
                          "mark": {"type": "text", "text": "Tighter", "fontSize": 11, "align": "left", "baseline": "middle", "color": "#000000"},
                          "encoding": {"x": {"datum": {"year": 2023, "month": 10, "date": 16}, "type": "temporal"}, "y": {"datum": 0.28, "type": "quantitative"}}
                        }
                      ]
                    }
                  ]
                }
              ]
            }
          ]
        },
        {
          "width": 276, "height": 365,
          "layer": [
            {
              "data": {"values": [{}]},
              "mark": {"type": "rect", "color": "#0018a8"},
              "encoding": {"x": {"datum": 235, "type": "quantitative", "scale": {"domain": [0, 276], "nice": false, "zero": false}, "axis": null}, "x2": {"datum": 276},
                           "y": {"datum": -4.235, "type": "quantitative", "scale": {"domain": [3.355, 25.34], "reverse": true, "nice": false, "zero": false}, "axis": null}, "y2": {"datum": -1.886}}
            },
            {
              "data": {"values": [{}]},
              "mark": {"type": "rect", "color": "#ffffff"},
              "encoding": {"x": {"datum": 241.3, "type": "quantitative"}, "x2": {"datum": 270.3}, "y": {"datum": -3.855, "type": "quantitative"}, "y2": {"datum": -2.265}}
            },
            {
              "data": {"values": [{}]},
              "mark": {"type": "rule", "color": "#0018a8", "strokeWidth": 5, "strokeCap": "butt"},
              "encoding": {"x": {"datum": 246, "type": "quantitative"}, "x2": {"datum": 266}, "y": {"datum": -2.608, "type": "quantitative"}, "y2": {"datum": -3.572}}
            },
            {
              "data": {"values": [{}]},
              "mark": {"type": "text", "text": "Recent publications:", "fontSize": 14, "fontStyle": "italic", "align": "left", "baseline": "middle", "color": "#000000"},
              "encoding": {"x": {"datum": 0, "type": "quantitative"}, "y": {"datum": -1.1, "type": "quantitative"}}
            },
            {
              "data": {"values": [{}]},
              "mark": {"type": "rule", "color": "#000000", "strokeWidth": 1},
              "encoding": {"x": {"datum": 0, "type": "quantitative"}, "x2": {"datum": 129}, "y": {"datum": -0.56, "type": "quantitative"}}
            },
            {
              "data": {"name": "pubs"},
              "mark": {"type": "text", "fontSize": 11.2, "align": "left", "baseline": "middle", "color": "#b83a36"},
              "encoding": {"x": {"datum": 0, "type": "quantitative"}, "y": {"field": "i", "type": "quantitative"}, "text": {"field": "t"}}
            }
          ]
        }
      ],
      "spacing": 12
    },
    {
      "width": 700, "height": 24,
      "layer": [
        {
          "data": {"values": [{}]},
          "mark": {"type": "rule", "color": "#a6a6a6", "strokeWidth": 1},
          "encoding": {"x": {"datum": -19, "type": "quantitative", "scale": {"domain": [0, 700], "nice": false, "zero": false}, "axis": null}, "x2": {"datum": 696},
                       "y": {"datum": 0, "type": "quantitative", "scale": {"domain": [0, 24], "reverse": true, "nice": false, "zero": false}, "axis": null}}
        },
        {
          "data": {"values": [{}]},
          "mark": {"type": "text", "text": "Deutsche Bank", "fontSize": 7.5, "align": "left", "baseline": "middle", "color": "#1f3c9c"},
          "encoding": {"x": {"datum": -17, "type": "quantitative"}, "y": {"datum": 9, "type": "quantitative"}}
        },
        {
          "data": {"values": [{}]},
          "mark": {"type": "text", "text": "Research", "fontSize": 7.5, "align": "left", "baseline": "middle", "color": "#3aa0d8"},
          "encoding": {"x": {"datum": -17, "type": "quantitative"}, "y": {"datum": 16.7, "type": "quantitative"}}
        },
        {
          "data": {"values": [{}]},
          "mark": {"type": "text", "text": "Amy Yang | (+1) 212 250 9959 |", "fontSize": 7.2, "align": "left", "baseline": "middle", "color": "#000000"},
          "encoding": {"x": {"datum": 44, "type": "quantitative"}, "y": {"datum": 11.3, "type": "quantitative"}}
        },
        {
          "data": {"values": [{}]},
          "mark": {"type": "text", "text": "amy.yang@db.com", "fontSize": 7.2, "align": "left", "baseline": "middle", "color": "#c0504d"},
          "encoding": {"x": {"datum": 148, "type": "quantitative"}, "y": {"datum": 11.3, "type": "quantitative"}}
        },
        {
          "data": {"values": [{}]},
          "mark": {"type": "text", "text": "February 12, 2024", "fontSize": 7.2, "align": "left", "baseline": "middle", "color": "#000000"},
          "encoding": {"x": {"datum": 44, "type": "quantitative"}, "y": {"datum": 19.3, "type": "quantitative"}}
        },
        {
          "data": {"values": [{}]},
          "mark": {"type": "text", "text": "3", "fontSize": 8, "align": "left", "baseline": "middle", "color": "#000000"},
          "encoding": {"x": {"datum": 715, "type": "quantitative"}, "y": {"datum": 11, "type": "quantitative"}}
        }
      ]
    }
  ],
  "spacing": -5
}
